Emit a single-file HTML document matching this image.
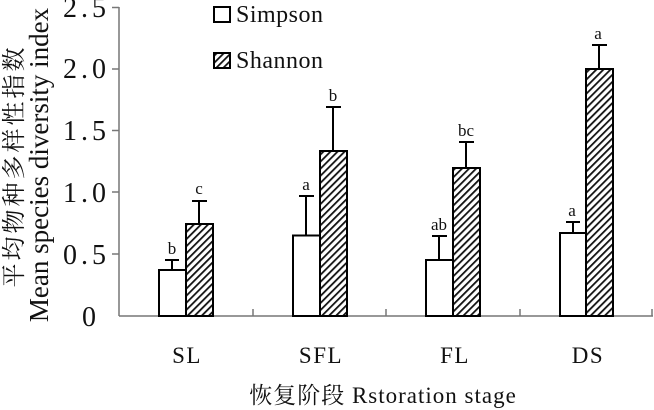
<!DOCTYPE html>
<html><head><meta charset="utf-8"><style>
html,body{margin:0;padding:0;background:#fff;}
svg{display:block;}
text{font-family:"Liberation Serif","Noto Serif CJK SC",serif;fill:#111;}
</style></head><body>
<svg width="654" height="410" viewBox="0 0 654 410" xmlns="http://www.w3.org/2000/svg">
<defs>
<pattern id="h" width="5" height="5" patternUnits="userSpaceOnUse" patternTransform="rotate(45)">
<rect width="5" height="5" fill="#fff"/><rect width="1.8" height="5" fill="#111"/>
</pattern>
</defs>
<g stroke="#777" stroke-width="1.5">
<line x1="119" y1="7" x2="119" y2="316"/>
<line x1="119" y1="316" x2="653" y2="316"/>
<line x1="112" y1="7.5" x2="119" y2="7.5"/>
<line x1="112" y1="69" x2="119" y2="69"/>
<line x1="112" y1="130.5" x2="119" y2="130.5"/>
<line x1="112" y1="192" x2="119" y2="192"/>
<line x1="112" y1="254" x2="119" y2="254"/>
<line x1="253" y1="309" x2="253" y2="316"/>
<line x1="386" y1="309" x2="386" y2="316"/>
<line x1="520" y1="309" x2="520" y2="316"/>
<line x1="652" y1="309" x2="652" y2="316"/>
</g>
<g font-size="28" text-anchor="end" letter-spacing="4">
<text x="110" y="17">2.5</text>
<text x="110" y="78">2.0</text>
<text x="110" y="140">1.5</text>
<text x="110" y="202">1.0</text>
<text x="110" y="264">0.5</text>
<text x="100" y="326">0</text>
</g>
<g stroke="#000" stroke-width="2">
<rect x="159" y="270" width="27" height="46" fill="#fff"/>
<rect x="186" y="224" width="27" height="92" fill="url(#h)"/>
<rect x="293" y="235.5" width="27" height="80.5" fill="#fff"/>
<rect x="320" y="151" width="27" height="165" fill="url(#h)"/>
<rect x="426" y="260" width="27" height="56" fill="#fff"/>
<rect x="453" y="168" width="27" height="148" fill="url(#h)"/>
<rect x="560" y="233" width="26" height="83" fill="#fff"/>
<rect x="586" y="69" width="27" height="247" fill="url(#h)"/>
<path d="M172 270V260M165 260H179 M199 224V201M192 201H207 M306 235V196M299 196H314 M333 151V107M326 107H341 M439 260V236M432 236H447 M466 168V142M459 142H474 M573 233V222M566 222H580 M599 69V45M592 45H607" fill="none"/>
</g>
<g font-size="17" text-anchor="middle">
<text x="172" y="254">b</text>
<text x="199" y="194">c</text>
<text x="306" y="190">a</text>
<text x="333" y="101">b</text>
<text x="439" y="230">ab</text>
<text x="466" y="136">bc</text>
<text x="572" y="216">a</text>
<text x="598" y="39">a</text>
</g>
<rect x="214" y="7" width="16" height="15" fill="#fff" stroke="#000" stroke-width="2"/>
<rect x="214" y="53" width="16" height="15" fill="url(#h)" stroke="#000" stroke-width="2"/>
<text x="236" y="22" font-size="24" letter-spacing="0.5">Simpson</text>
<text x="236" y="68" font-size="24" letter-spacing="0.5">Shannon</text>
<g font-size="23" text-anchor="middle" letter-spacing="1.5">
<text x="187" y="363">SL</text>
<text x="321" y="363">SFL</text>
<text x="455" y="363">FL</text>
<text x="588" y="363">DS</text>
</g>
<text x="383" y="403" font-size="23" text-anchor="middle" letter-spacing="1">恢复阶段 Rstoration stage</text>
<g text-anchor="middle">
<text transform="translate(22,166) rotate(-90)" font-size="24" letter-spacing="3">平均物种多样性指数</text>
<text transform="translate(48,165) rotate(-90)" font-size="27">Mean species diversity index</text>
</g>
</svg>
</body></html>
